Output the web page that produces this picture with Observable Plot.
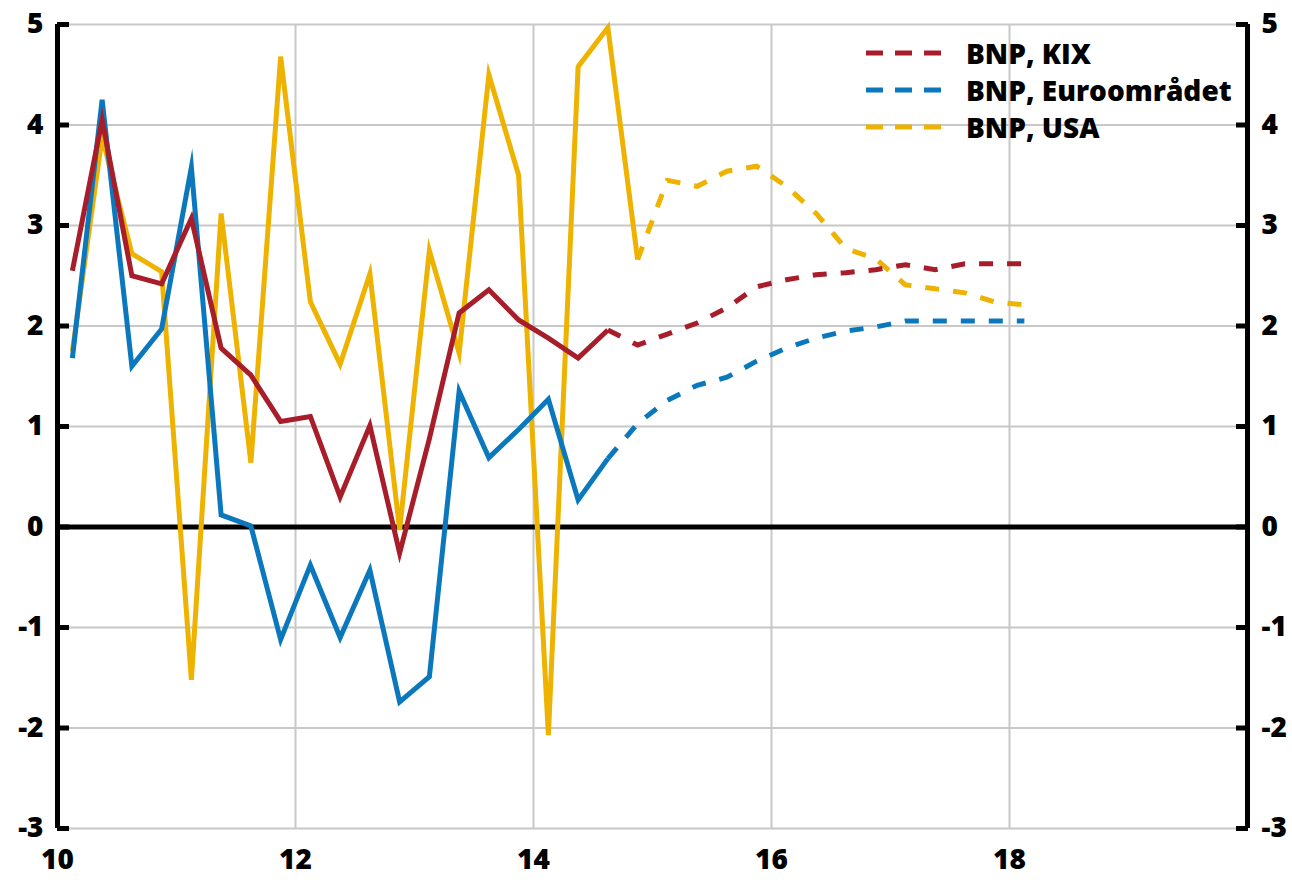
<!DOCTYPE html>
<html>
<head>
<meta charset="utf-8">
<script src="https://cdn.jsdelivr.net/npm/d3@7"></script>
<script src="https://cdn.jsdelivr.net/npm/@observablehq/plot@0.6"></script>
<style>
  html, body { margin: 0; padding: 0; background: #fff; }
  #wrap { position: relative; width: 1292px; height: 880px; }
  #legend { position: absolute; left: 866px; top: 34px; font-family: "Open Sans", sans-serif; font-weight: 800; font-size: 28px; color: #000; }
  #legend .row { display: flex; align-items: center; height: 37px; }
  #legend svg { margin-right: 13px; }
</style>
</head>
<body>
<div id="wrap"><div id="chart"></div><div id="legend"></div></div>
<script>
// Quarters 2010K1 .. 2018K1
const quarters = ["2010K1","2010K2","2010K3","2010K4","2011K1","2011K2","2011K3","2011K4",
  "2012K1","2012K2","2012K3","2012K4","2013K1","2013K2","2013K3","2013K4",
  "2014K1","2014K2","2014K3","2014K4","2015K1","2015K2","2015K3","2015K4",
  "2016K1","2016K2","2016K3","2016K4","2017K1","2017K2","2017K3","2017K4","2018K1"];

const seriesNames = ["BNP, KIX", "BNP, Euroområdet", "BNP, USA"];

const kix = [2.55, 4.05, 2.50, 2.42, 3.07, 1.78, 1.51, 1.05, 1.10, 0.30, 1.01, -0.26, 0.88, 2.13, 2.36, 2.06,
  1.88, 1.68, 1.96, 1.81, 1.92, 2.03, 2.18, 2.39, 2.46, 2.51, 2.53, 2.56, 2.61, 2.56, 2.62, 2.62, 2.62];
const euro = [1.68, 4.25, 1.60, 1.97, 3.58, 0.12, 0.01, -1.12, -0.38, -1.10, -0.43, -1.74, -1.49, 1.35, 0.69, 0.97,
  1.27, 0.27, 0.68, 1.03, 1.26, 1.41, 1.49, 1.65, 1.78, 1.88, 1.95, 1.99, 2.05, 2.05, 2.05, 2.05, 2.05];
const usa = [1.75, 3.88, 2.72, 2.54, -1.52, 3.12, 0.64, 4.68, 2.24, 1.62, 2.52, -0.03, 2.75, 1.73, 4.50, 3.50,
  -2.07, 4.58, 4.97, 2.66, 3.45, 3.39, 3.54, 3.59, 3.39, 3.12, 2.77, 2.67, 2.41, 2.37, 2.33, 2.24, 2.21];

// last quarter of outcome (forecast dashed from there on)
const lastOutcome = ["2014K3", "2014K3", "2014K4"];

const yTicks = [-3, -2, -1, 0, 1, 2, 3, 4, 5];
const xLabelTicks = [10, 12, 14, 16, 18];
const xGridTicks = [12, 14, 16, 18];
const xDomain = [10, 20];
const yDomain = [-3, 5];

const colors = ["#a71d2a", "#0b78bd", "#eeb200"];

const allValues = [kix, euro, usa];
function qx(q) { const y = +q.slice(0, 4) - 2000; const k = +q.slice(5); return y + (k - 0.5) / 4; }

const rows = [];
seriesNames.forEach((name, s) => {
  const cut = quarters.indexOf(lastOutcome[s]);
  quarters.forEach((q, i) => {
    if (i <= cut) rows.push({series: name, part: "outcome", x: qx(q), v: allValues[s][i]});
    if (i >= cut) rows.push({series: name, part: "forecast", x: qx(q), v: allValues[s][i]});
  });
});

const drawOrder = [2, 1, 0];
const lineMarks = [];
for (const s of drawOrder) {
  const name = seriesNames[s];
  lineMarks.push(Plot.line(rows.filter(r => r.series === name && r.part === "outcome"),
    {x: "x", y: "v", stroke: colors[s], strokeWidth: 5, strokeLinejoin: "miter", strokeMiterlimit: 8, strokeLinecap: "butt"}));
  lineMarks.push(Plot.line(rows.filter(r => r.series === name && r.part === "forecast"),
    {x: "x", y: "v", stroke: colors[s], strokeWidth: 5, strokeLinejoin: "miter", strokeMiterlimit: 8, strokeLinecap: "butt", strokeDasharray: "14,14"}));
}

const fmt = d => String(d);
const chart = Plot.plot({
  width: 1292, height: 880,
  marginLeft: 57, marginRight: 45, marginTop: 24, marginBottom: 52,
  style: {fontFamily: "'Open Sans', sans-serif", fontSize: "28px", fontWeight: 800, color: "#000", background: "#fff"},
  x: {domain: xDomain, axis: null, label: null},
  y: {domain: yDomain, axis: null, label: null},
  marks: [
    Plot.gridY({ticks: yTicks, stroke: "#c8c8c8", strokeOpacity: 1, strokeWidth: 2}),
    Plot.gridX({ticks: xGridTicks, stroke: "#c8c8c8", strokeOpacity: 1, strokeWidth: 2}),
    Plot.ruleY([0], {stroke: "#000", strokeWidth: 5}),
    ...lineMarks,
    Plot.ruleX(xDomain, {stroke: "#000", strokeWidth: 5}),
    Plot.axisY({ticks: yTicks, anchor: "left", label: null, tickSize: 12, dx: 12, strokeWidth: 5, tickFormat: () => ""}),
    Plot.axisY({ticks: yTicks, anchor: "right", label: null, tickSize: 12, dx: -12, strokeWidth: 5, tickFormat: () => ""}),
    Plot.axisY({ticks: yTicks, anchor: "left", label: null, tickSize: 0, tickPadding: 14, tickFormat: fmt, fill: "#000"}),
    Plot.axisY({ticks: yTicks, anchor: "right", label: null, tickSize: 0, tickPadding: 14, tickFormat: fmt, fill: "#000"}),
    Plot.axisX({ticks: xLabelTicks, anchor: "bottom", label: null, tickSize: 0, tickPadding: 21, tickFormat: fmt, fill: "#000"})
  ]
});
document.getElementById("chart").appendChild(chart);

const legend = document.getElementById("legend");
seriesNames.forEach((name, s) => {
  const row = document.createElement("div");
  row.className = "row";
  row.innerHTML = `<svg width="87" height="10"><line x1="0" y1="5" x2="87" y2="5" stroke="${colors[s]}" stroke-width="5" stroke-dasharray="17,12"/></svg><span></span>`;
  row.querySelector("span").textContent = name;
  legend.appendChild(row);
});
</script>
</body>
</html>
